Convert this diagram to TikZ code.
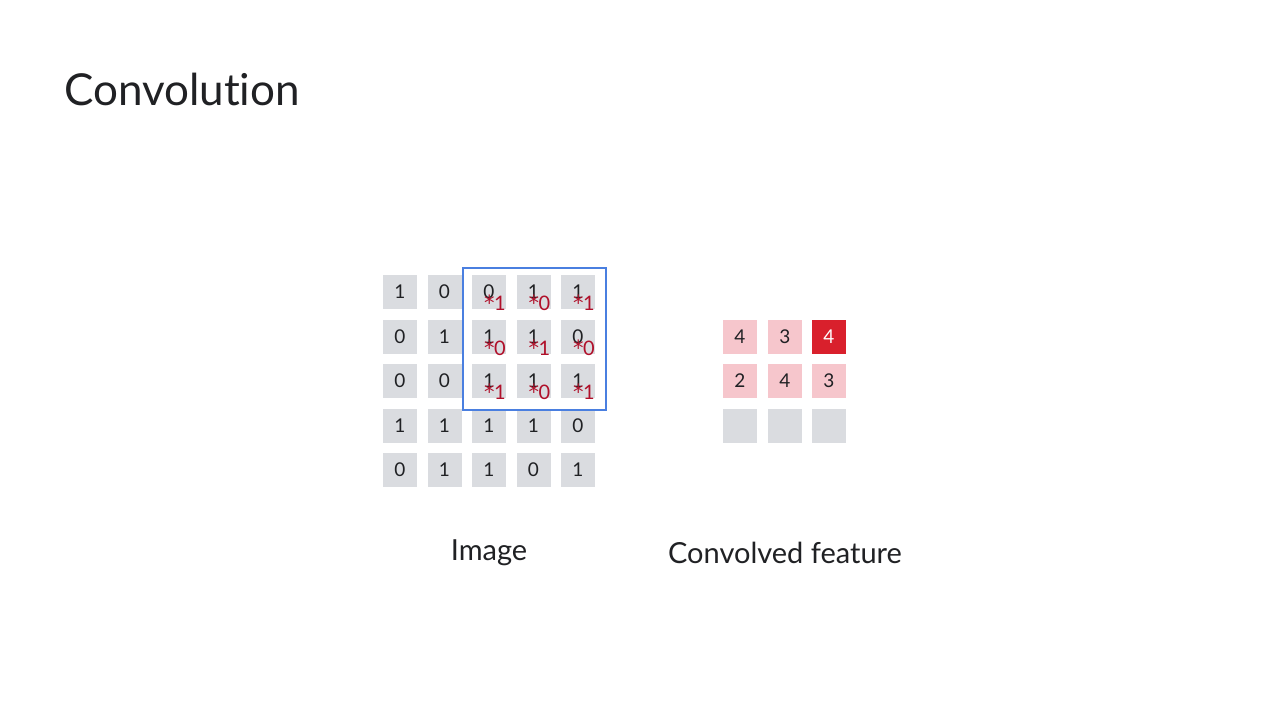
\documentclass[tikz,border=0pt]{standalone}
\usepackage{fontspec}
\usetikzlibrary{calc}
\setmainfont{Lato}[Ligatures=NoCommon]
\newfontfamily\astfont{DejaVu Sans}
\definecolor{cellgray}{HTML}{DADCE0}
\definecolor{cellpink}{HTML}{F6C6CC}
\definecolor{cellred}{HTML}{D9202C}
\definecolor{winblue}{HTML}{4A7FE0}
\definecolor{multred}{HTML}{B0102A}
\definecolor{txt}{HTML}{202124}
\newcommand{\mul}[1]{{\astfont\fontsize{21}{21}\selectfont *}\kern-0.5pt#1}
\begin{document}
\begin{tikzpicture}[x=1pt,y=-1pt,
  cell/.style={minimum width=34pt,minimum height=34pt,inner sep=0pt,fill=cellgray,text=txt,font=\fontsize{19}{19}\selectfont},
  pcell/.style={cell,fill=cellpink},
  rcell/.style={cell,fill=cellred,text=white},
  mult/.style={inner sep=0pt,text=multred,font=\fontsize{20}{20}\selectfont},
  lbl/.style={text=txt,font=\fontsize{29}{29}\selectfont},
  win/.style={draw=winblue,line width=2pt,inner sep=0pt}]
\useasboundingbox (0,0) rectangle (1280,720);
\fill[white] (0,0) rectangle (1280,720);
\node[anchor=base west,inner sep=0pt,text=txt,font=\fontsize{44}{44}\selectfont] (title) at (64,105) {Convolution};
% image grid
\def\xs{{400,444.5,489,533.5,578}}
\def\ys{{292,337,381,426,470}}
\foreach \r/\row in {0/{1,0,0,1,1},1/{0,1,1,1,0},2/{0,0,1,1,1},3/{1,1,1,1,0},4/{0,1,1,0,1}}{
  \foreach \v [count=\c from 0] in \row {
    \pgfmathsetmacro\px{\xs[\c]}
    \pgfmathsetmacro\py{\ys[\r]}
    \node[cell] (i\r\c) at (\px,\py) {\v};
  }
}
\node[win,minimum width=143pt,minimum height=142pt] (window) at (534.5,339) {};
\foreach \r/\row in {0/{1,0,1},1/{0,1,0},2/{1,0,1}}{
  \foreach \v [count=\c from 2] in \row {
    \node[mult] (m\r\c) at ($(i\r\c)+(6,11)$) {\mul{\v}};
  }
}
% convolved
\node[pcell] (o00) at (740,337) {4};
\node[pcell] (o01) at (785,337) {3};
\node[rcell] (o02) at (829,337) {4};
\node[pcell] (o10) at (740,381) {2};
\node[pcell] (o11) at (785,381) {4};
\node[pcell] (o12) at (829,381) {3};
\node[cell] (o20) at (740,426) {};
\node[cell] (o21) at (785,426) {};
\node[cell] (o22) at (829,426) {};
\node[lbl] (limg) at (489,553) {Image};
\node[lbl] (lconv) at (785,553) {Convolved feature};
\end{tikzpicture}
\end{document}
